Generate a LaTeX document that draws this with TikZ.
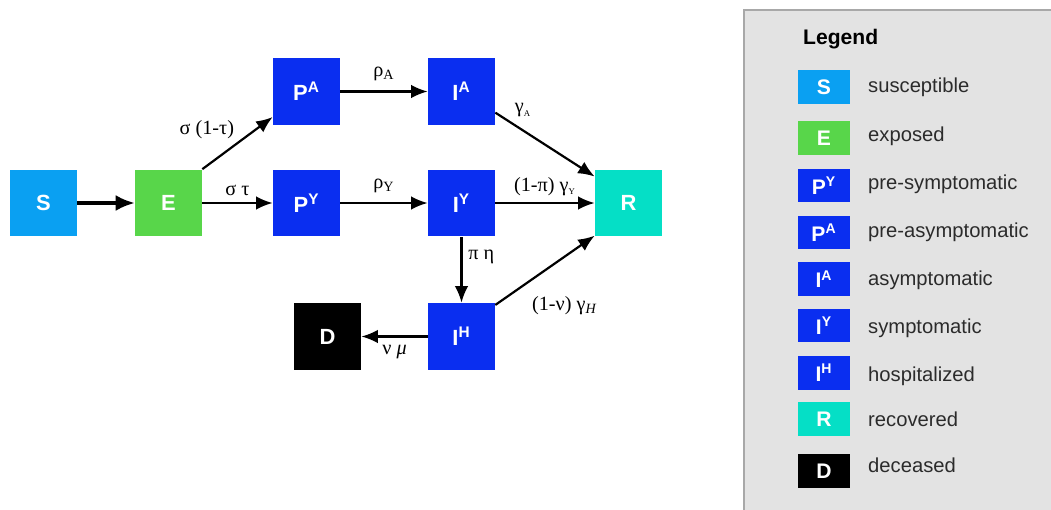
\documentclass[tikz,border=0pt]{standalone}
\usepackage{fontspec}
\setmainfont{Liberation Serif}
\setsansfont{Liberation Sans}
\usetikzlibrary{positioning, arrows.meta, calc}
\definecolor{suscol}{HTML}{0AA0F2}
\definecolor{expcol}{HTML}{58D64A}
\definecolor{infcol}{HTML}{0A2EF0}
\definecolor{reccol}{HTML}{05DFC6}
\definecolor{legbg}{HTML}{E3E3E3}
\definecolor{legline}{HTML}{A8A8A8}
\definecolor{legtext}{HTML}{2B2B2B}
\tikzset{
  comp/.style={rectangle, minimum width=1.34cm, minimum height=1.34cm, inner sep=0pt, text=white, font=\sffamily\bfseries\fontsize{12.5}{14}\selectfont},
  legbox/.style={rectangle, minimum width=1.04cm, minimum height=0.68cm, inner sep=0pt, text=white, font=\sffamily\bfseries\fontsize{12}{14}\selectfont},
  legtxt/.style={anchor=west, text=legtext, font=\sffamily\fontsize{11.5}{13}\selectfont},
  rate/.style={font=\fontsize{11.5}{13}\selectfont},
  arrow/.style={line width=1.25pt, -{Latex[length=3.3mm, width=2.7mm]}},
  bigarrow/.style={line width=1.8pt, -{Latex[length=3.8mm, width=3.2mm]}}
}
\begin{document}
\begin{tikzpicture}[x=0.02cm, y=-0.02cm]
        \useasboundingbox (0,0) rectangle (1051,510);
        % compartments
        \node (S) [comp, fill=suscol] at (43.5,203) {S};
        \node (E) [comp, fill=expcol] at (168.5,203) {E};
        \node (PA) [comp, fill=infcol] at (306.5,91.5) {P\textsuperscript{A}};
        \node (PY) [comp, fill=infcol] at (306.5,203) {P\textsuperscript{Y}};
        \node (IA) [comp, fill=infcol] at (461.5,91.5) {I\textsuperscript{A}};
        \node (IY) [comp, fill=infcol] at (461.5,203) {I\textsuperscript{Y}};
        \node (IH) [comp, fill=infcol] at (461.5,336.5) {I\textsuperscript{H}};
        \node (D) [comp, fill=black] at (327.5,336.5) {D};
        \node (R) [comp, fill=reccol] at (628.5,203) {R};

        % transitions
        \draw [bigarrow] (S.east) -- (E.west);
        \draw [arrow] (E.north east) -- node[rate, pos=0.45, above left=0pt and -4pt] {σ (1-τ)} (PA.217);
        \draw [arrow] (E.east) -- node[rate, above] {σ τ} (PY.west);
        \draw [arrow] (PA.east) -- node[rate, above=2pt] {ρ\textsubscript{A}} (IA.west);
        \draw [arrow] (PY.east) -- node[rate, above=2pt] {ρ\textsubscript{Y}} (IY.west);
        \draw [arrow] (IA.-32) -- node[rate, pos=0.18, above right=0pt and -3pt] {γ\textsubscript{\tiny A}} (R.142);
        \draw [arrow] (IY.east) -- node[rate, above] {(1-π) γ\textsubscript{\tiny Y}} (R.west);
        \draw [arrow] (IY.south) -- node[rate, pos=0.3, right] {π η} (IH.north);
        \draw [arrow] (IH.43) -- node[rate, pos=0.3, below right=3pt and 0pt] {(1-ν) γ\textsubscript{\textit{H}}} (R.224);
        \draw [arrow] (IH.west) -- node[rate, below=1pt] {ν \textit{μ}} (D.east);

        % legend
        \draw [legline, fill=legbg, line width=0.8pt] (744,10) rectangle (1060,520);
        \node (legtitle) [anchor=west, font=\sffamily\bfseries\fontsize{12}{14}\selectfont] at (797,39) {Legend};
        \node (lS) [legbox, fill=suscol] at (824,87) {S};
        \node (lE) [legbox, fill=expcol] at (824,138) {E};
        \node (lPY) [legbox, fill=infcol] at (824,185.5) {P\textsuperscript{Y}};
        \node (lPA) [legbox, fill=infcol] at (824,232.5) {P\textsuperscript{A}};
        \node (lIA) [legbox, fill=infcol] at (824,279) {I\textsuperscript{A}};
        \node (lIY) [legbox, fill=infcol] at (824,325.5) {I\textsuperscript{Y}};
        \node (lIH) [legbox, fill=infcol] at (824,372.5) {I\textsuperscript{H}};
        \node (lR) [legbox, fill=reccol] at (824,419) {R};
        \node (lD) [legbox, fill=black] at (824,471) {D};
        \node (tS) [legtxt] at (862,87) {susceptible};
        \node (tE) [legtxt] at (862,136) {exposed};
        \node (tPY) [legtxt] at (862,184) {pre-symptomatic};
        \node (tPA) [legtxt] at (862,232) {pre-asymptomatic};
        \node (tIA) [legtxt] at (862,280) {asymptomatic};
        \node (tIY) [legtxt] at (862,328) {symptomatic};
        \node (tIH) [legtxt] at (862,376) {hospitalized};
        \node (tR) [legtxt] at (862,419) {recovered};
        \node (tD) [legtxt] at (862,465) {deceased};
\end{tikzpicture}
\end{document}
